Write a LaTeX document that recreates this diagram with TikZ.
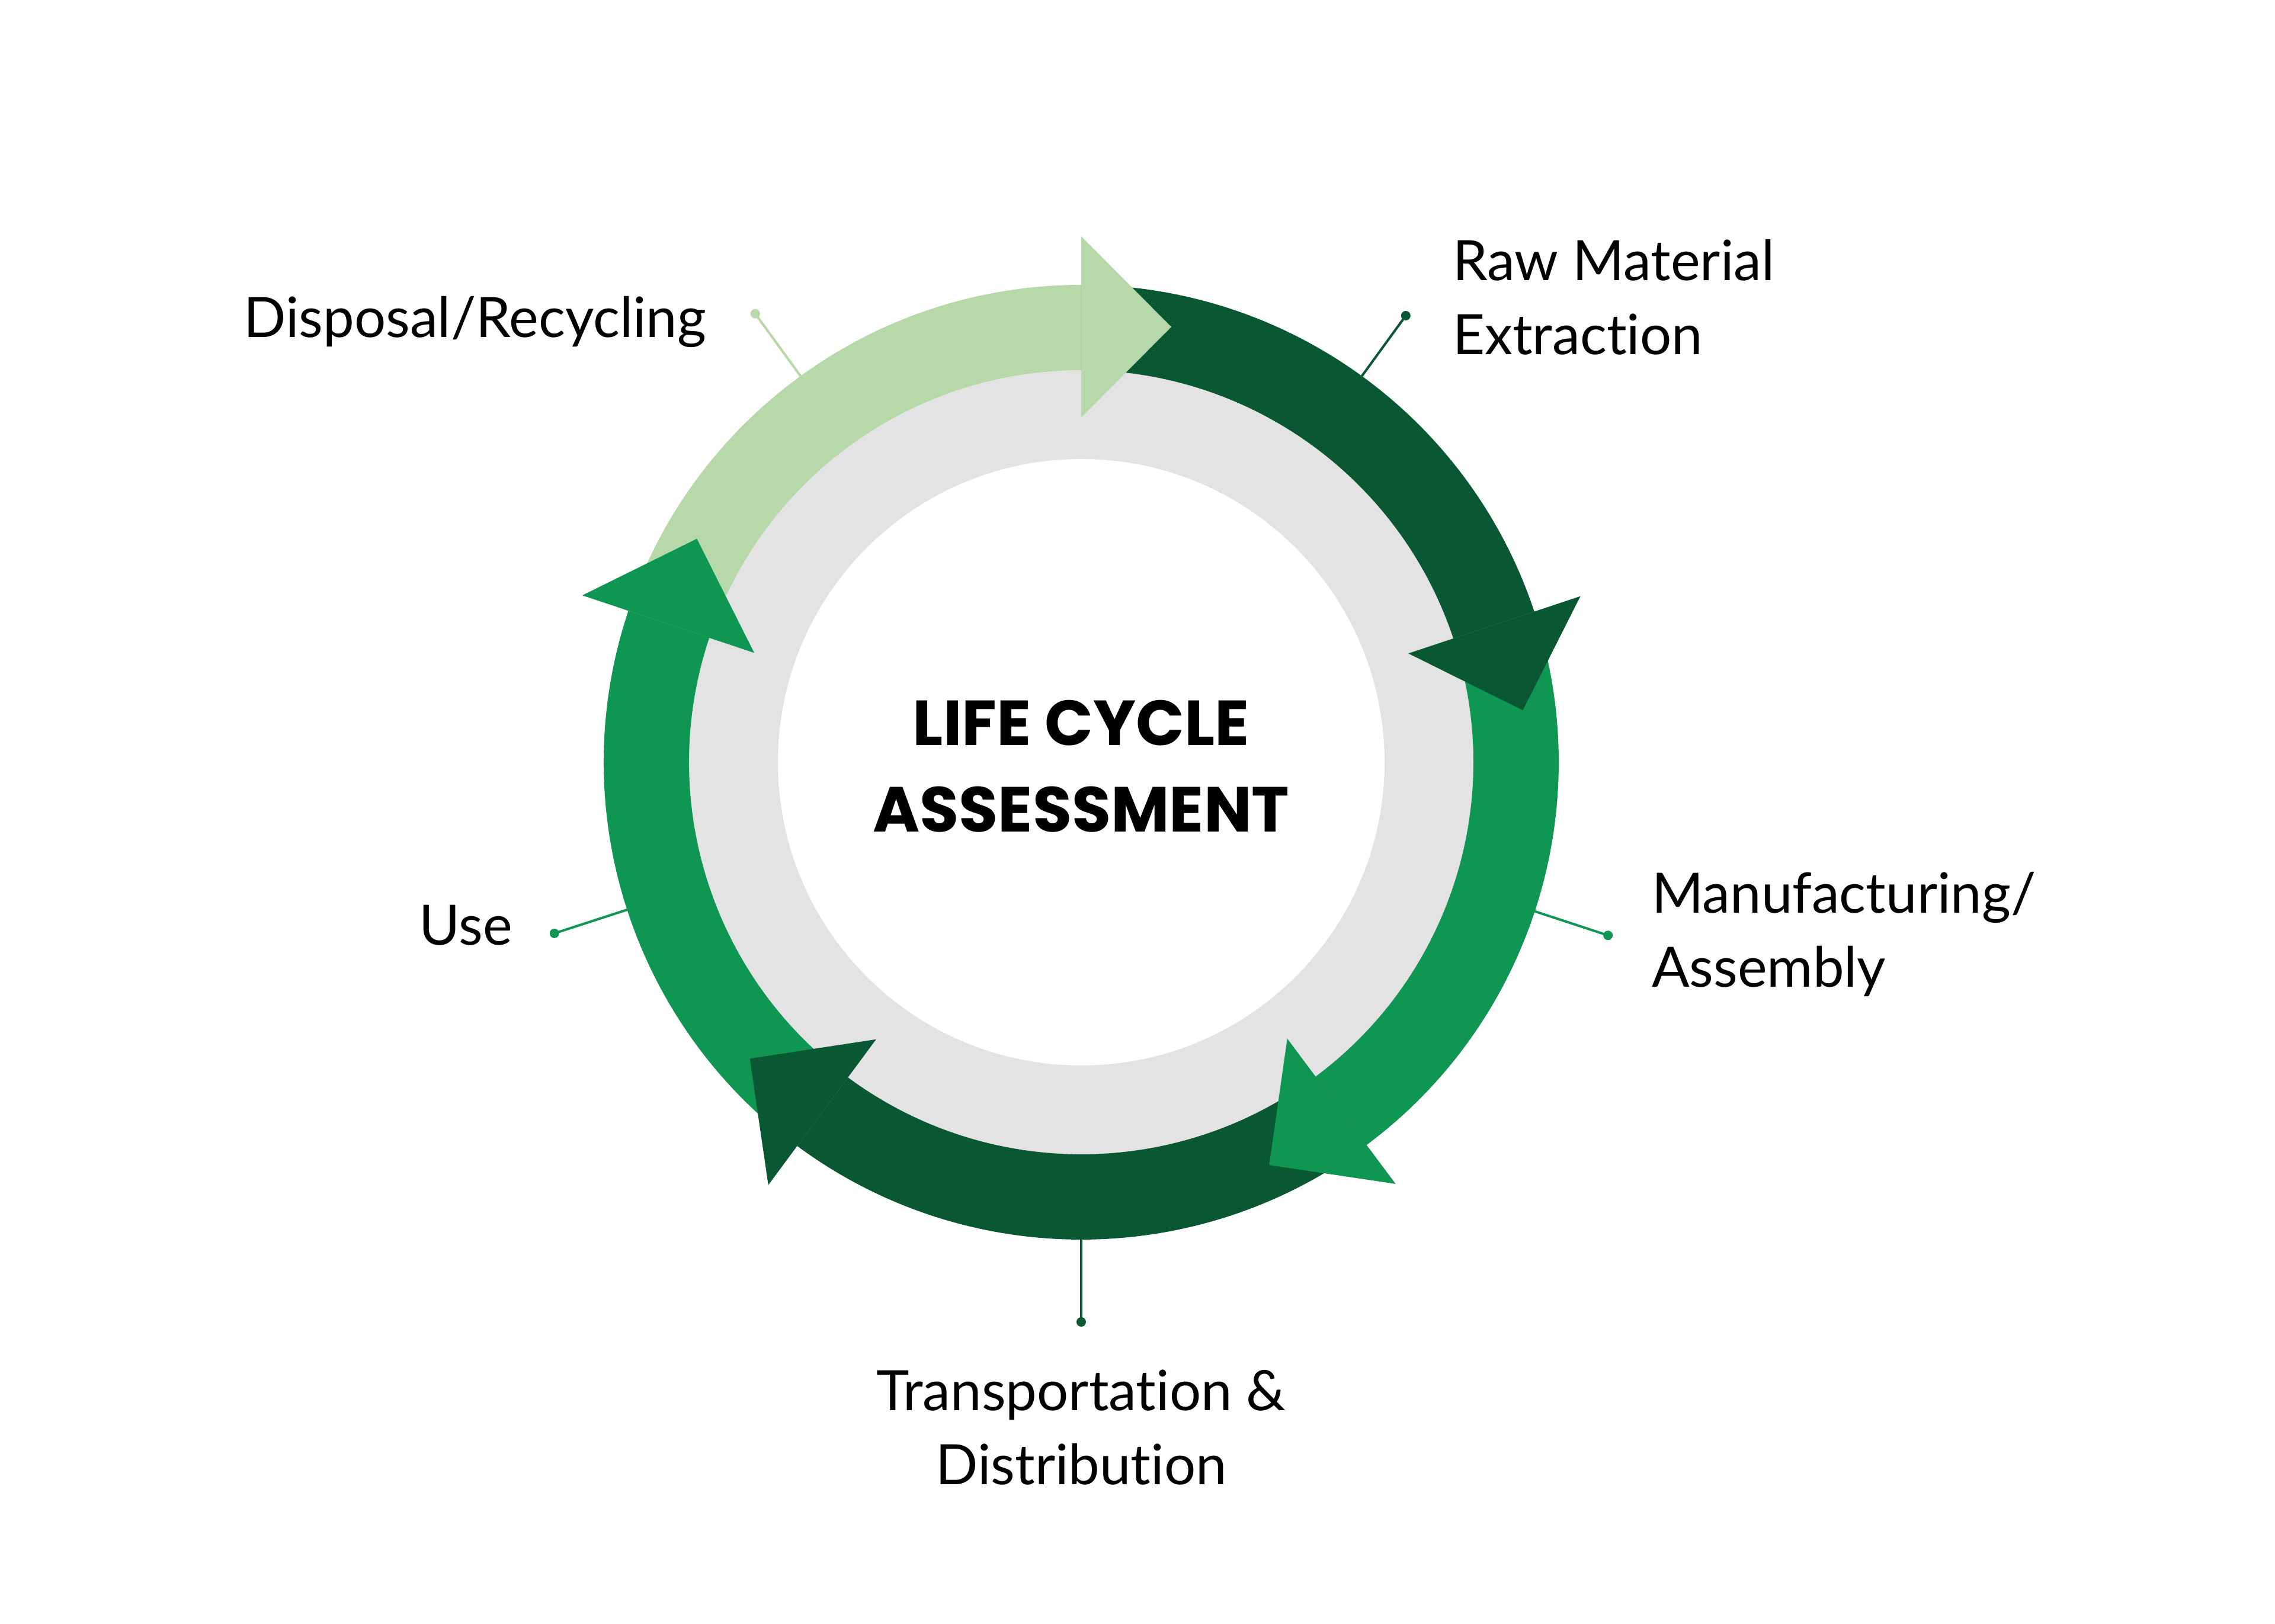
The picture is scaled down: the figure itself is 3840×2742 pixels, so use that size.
\documentclass[tikz,border=0pt]{standalone}
\usepackage{fontspec}
\setmainfont{Lato}[Ligatures=NoCommon]
\newfontfamily\titlefont{Poppins}
\usetikzlibrary{calc}
\definecolor{dkgreen}{HTML}{0A5734}
\definecolor{mdgreen}{HTML}{109653}
\definecolor{ltgreen}{HTML}{B7D8A8}
\definecolor{ringgray}{HTML}{E3E3E3}
\newcommand\bandseg[3]{\fill[#1] (#2:806) arc[start angle=#2,end angle=#3,radius=806] -- (#3:662) arc[start angle=#3,end angle=#2,radius=662] -- cycle;}
\newcommand\headtri[2]{\fill[#1] (#2:888) -- ($(#2:735)+(#2-90:152)$) -- (#2:582) -- cycle;}
\tikzset{
  leaderdot/.style={circle,inner sep=0pt,minimum size=3.2pt,fill=#1},
  leaderline/.style={draw=#1,line width=0.8pt},
  lbl/.style={inner sep=0pt,text=black,font=\fontsize{18.8}{25}\selectfont},
  ttl/.style={inner sep=0pt,text=black,font=\titlefont\bfseries\fontsize{21.5}{29.2}\selectfont}
}
\begin{document}
\begin{tikzpicture}[x=0.2pt,y=0.2pt]
\useasboundingbox (-1825,-1455) rectangle (2015,1287);
\fill[white] (-1825,-1455) rectangle (2015,1287);
% grey ring
\fill[ringgray,even odd rule] (0,0) circle[radius=665] (0,0) circle[radius=512];
% arrow bands
\bandseg{ltgreen}{161.5}{90}
\bandseg{dkgreen}{90}{18.4}
\bandseg{mdgreen}{18.4}{-53.3}
\bandseg{dkgreen}{-53.3}{-126.5}
\bandseg{mdgreen}{-126.5}{-198.5}
% arrow heads
\headtri{ltgreen}{90}
\headtri{dkgreen}{18.4}
\headtri{mdgreen}{-53.3}
\headtri{dkgreen}{-126.5}
\headtri{mdgreen}{161.5}
% title
\node[ttl,anchor=base] (title) at (0,28) {\begin{tabular}[t]{@{}c@{}}LIFE CYCLE\\ASSESSMENT\end{tabular}};
% leaders
\coordinate (rawS) at (54:806);
\node[leaderdot=dkgreen] (rawD) at (54:932) {};
\draw[leaderline=dkgreen] (rawS) -- (rawD.center);
\coordinate (manS) at (-18.2:806);
\node[leaderdot=mdgreen] (manD) at (-18.2:936) {};
\draw[leaderline=mdgreen] (manS) -- (manD.center);
\coordinate (traS) at (-90:806);
\node[leaderdot=dkgreen] (traD) at (-90:945) {};
\draw[leaderline=dkgreen] (traS) -- (traD.center);
\coordinate (useS) at (-162:806);
\node[leaderdot=mdgreen] (useD) at (-162:935) {};
\draw[leaderline=mdgreen] (useS) -- (useD.center);
\coordinate (disS) at (126:806);
\node[leaderdot=ltgreen] (disD) at (126:936) {};
\draw[leaderline=ltgreen] (disS) -- (disD.center);
% labels
\node[lbl,anchor=base west] (raw) at (626,813) {\begin{tabular}[t]{@{}l@{}}Raw Material\\Extraction\end{tabular}};
\node[lbl,anchor=base west] (man) at (962,-255) {\begin{tabular}[t]{@{}l@{}}Manufacturing/\\Assembly\end{tabular}};
\node[lbl,anchor=base] (tra) at (0,-1095) {\begin{tabular}[t]{@{}c@{}}Transportation \&\\Distribution\end{tabular}};
\node[lbl,anchor=base east] (use) at (-959,-309) {Use};
\node[lbl,anchor=base east] (dis) at (-632,717) {Disposal/Recycling};
\end{tikzpicture}
\end{document}
